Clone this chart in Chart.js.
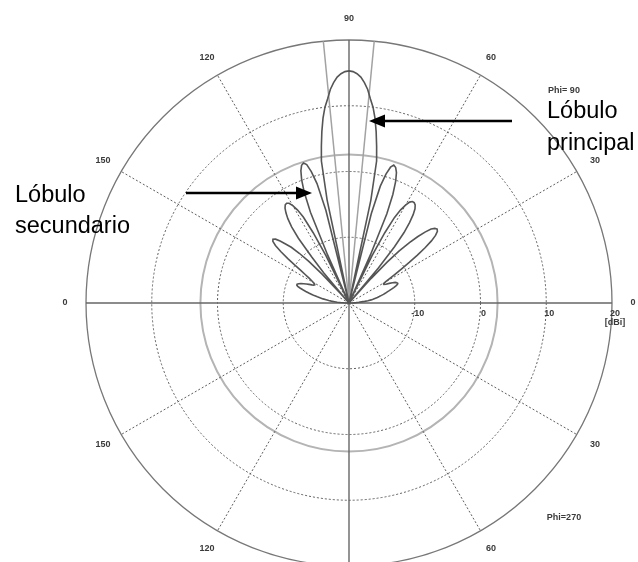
<!DOCTYPE html>
<html>
<head>
<meta charset="utf-8">
<script src="https://cdn.jsdelivr.net/npm/chart.js@4/dist/chart.umd.min.js"></script>
<style>
  html, body { margin: 0; padding: 0; background: #fff; overflow: hidden; width: 638px; height: 562px; }
  canvas { display: block; }
</style>
</head>
<body>
<canvas id="pattern" width="638" height="566"></canvas>
<script>
// Elevation angle of every gain sample, from the left horizon (180) over the zenith (90) to the right horizon (0).
const elevation = Array.from({ length: 181 }, (_, i) => 180 - i);

// Vertical-plane gain in dBi, one value per degree of elevation (same order as `elevation`).
const gainDbi = [
  -20.0, -19.6, -19.2, -18.7, -18.2, -17.8, -17.3, -16.9, -16.5, -16.0,   // 180..171
  -15.6, -15.1, -14.6, -14.2, -13.7, -13.2, -12.7, -12.2, -11.8, -11.6,   // 170..161
  -11.6, -11.8, -12.1, -12.5, -12.9, -13.3, -13.7, -14.0, -14.1, -14.0,   // 160..151
  -13.7, -13.3, -12.8, -12.1, -11.2, -10.0,  -8.5,  -7.0,  -5.8,  -5.1,   // 150..141
   -4.9,  -5.2,  -5.9,  -6.9,  -7.8,  -9.3, -11.2, -14.0, -18.0, -20.0,   // 140..131
  -14.0, -11.0,  -7.5,  -5.5,  -4.2,  -3.3,  -2.6,  -2.2,  -2.1,  -2.3,   // 130..121
   -2.9,  -3.8,  -5.2,  -8.0, -12.0, -20.0, -12.0,  -5.0,  -1.8,   0.1,   // 120..111
    1.4,   2.15,  2.4,   2.0,   0.8,  -1.2,  -5.5, -20.0,  -4.0,   2.0,   // 110..101
    4.2,   6.4,   8.4,  10.0,  11.2,  12.6,  13.6,  14.4,  14.9,  15.2,   // 100..91
   15.3,  15.2,  14.9,  14.4,  13.6,  12.6,  11.2,  10.0,   8.4,   6.4,   // 90..81
    4.2,   2.0,  -4.0, -20.0,  -6.0,  -1.6,   0.4,   1.6,   2.05,  1.8,   // 80..71
    1.1,  -0.2,  -2.2,  -5.3, -12.0, -20.0, -12.0,  -8.0,  -5.3,  -3.8,   // 70..61
   -2.8,  -2.1,  -1.8,  -1.8,  -2.0,  -2.5,  -3.4,  -4.7,  -6.4,  -9.0,   // 60..51
  -13.0, -20.0, -15.0, -11.5,  -9.0,  -7.0,  -5.5,  -4.2,  -3.2,  -2.7,   // 50..41
   -2.5,  -2.7,  -3.3,  -4.3,  -5.7,  -7.3,  -8.9, -10.4, -11.7, -12.8,   // 40..31
  -13.6, -14.0, -14.0, -13.7, -13.2, -12.7, -12.3, -12.1, -12.0, -12.1,   // 30..21
  -12.4, -12.8, -13.2, -13.6, -14.0, -14.3, -14.6, -15.0, -15.3, -15.6,   // 20..11
  -16.0, -16.3, -16.6, -17.1, -17.6, -18.1, -18.5, -18.9, -19.3, -19.7,   // 10..1
  -20.0                                                                   // 0
];

// Radial axis (dBi)
const radialMin = -20;
const radialMax = 20;
const ringLevels = [-10, 0, 2.6, 10, 20];       // circles drawn on the grid
const dbTickValues = [-10, 0, 10, 20];          // labelled along the right half of the horizontal axis
const dbTickText = ['-10', '0', '10', '20'];
const dbUnit = '[dBi]';

// Angular grid: spokes every 30 degrees and the text printed at their ends
const spokeAngles = [0, 30, 60, 90, 120, 150, 180, 210, 240, 270, 300, 330];
const spokeText   = ['0', '30', '60', '90', '120', '150', '0', '150', '120', '90', '60', '30'];

// Half-power beam edges of the main lobe (degrees of elevation)
const beamEdges = [95.6, 84.5];

// Full circle of categories, one per degree; the lower half carries no samples
const lowerHalf = Array.from({ length: 179 }, (_, k) => 359 - k);
const circleLabels = elevation.concat(lowerHalf).map(String);

// Category index of an elevation angle on the radar scale (index 0 = 180 deg on the left)
const indexOf = deg => (((180 - deg) % 360) + 360) % 360;

const GRID = '#5e5e5e';
const OUTER = '#777777';
const AXIS = '#666666';

const overlay = {
  id: 'patternOverlay',
  beforeDatasetsDraw(chart) {
    const s = chart.scales.r;
    const ctx = chart.ctx;
    const rOuter = s.getDistanceFromCenterForValue(s.max);
    ctx.save();
    ctx.strokeStyle = '#a2a2a2';
    ctx.lineWidth = 1.5;
    beamEdges.forEach(a => {
      const p = s.getPointPosition(indexOf(a), rOuter);
      ctx.beginPath();
      ctx.moveTo(s.xCenter, s.yCenter);
      ctx.lineTo(p.x, p.y);
      ctx.stroke();
    });
    ctx.restore();
  },
  afterDraw(chart) {
    const s = chart.scales.r;
    const ctx = chart.ctx;
    const rOuter = s.getDistanceFromCenterForValue(s.max);
    ctx.save();

    // angle labels around the outer circle
    ctx.font = 'bold 9px "Liberation Sans", Arial, sans-serif';
    ctx.fillStyle = '#3a3a3a';
    ctx.textAlign = 'center';
    ctx.textBaseline = 'middle';
    spokeAngles.forEach((a, i) => {
      const p = s.getPointPosition(indexOf(a), rOuter + 21);
      ctx.fillText(spokeText[i], p.x, p.y);
    });

    // dBi labels under the horizontal axis
    dbTickValues.forEach((v, i) => {
      const x = s.xCenter + s.getDistanceFromCenterForValue(v) + 3;
      ctx.fillText(dbTickText[i], x, s.yCenter + 11);
    });
    const xUnit = s.xCenter + s.getDistanceFromCenterForValue(radialMax) + 3;
    ctx.fillText(dbUnit, xUnit, s.yCenter + 20);

    // plane identifiers
    ctx.fillText('Phi= 90', 564, 91);
    ctx.fillText('Phi=270', 564, 518);

    // annotations
    ctx.fillStyle = '#000';
    ctx.textAlign = 'left';
    ctx.textBaseline = 'alphabetic';
    ctx.font = '23.5px "Liberation Sans", Arial, sans-serif';
    ctx.fillText('Lóbulo', 547, 118);
    ctx.fillText('principal', 547, 150);
    ctx.fillText('Lóbulo', 15, 202);
    ctx.fillText('secundario', 15, 233);

    const arrow = (x0, x1, y) => {
      const dir = Math.sign(x1 - x0);
      const base = x1 - dir * 16;
      ctx.strokeStyle = '#000';
      ctx.lineWidth = 2.5;
      ctx.beginPath();
      ctx.moveTo(x0, y);
      ctx.lineTo(base, y);
      ctx.stroke();
      ctx.fillStyle = '#000';
      ctx.beginPath();
      ctx.moveTo(x1, y);
      ctx.lineTo(base, y - 6.5);
      ctx.lineTo(base, y + 6.5);
      ctx.closePath();
      ctx.fill();
    };
    arrow(512, 369, 121);
    arrow(186, 312, 193);

    ctx.restore();
  }
};

new Chart(document.getElementById('pattern'), {
  type: 'radar',
  data: {
    labels: circleLabels,
    datasets: [{
      data: gainDbi,
      borderColor: '#555555',
      borderWidth: 1.6,
      pointRadius: 0,
      fill: false,
      tension: 0
    }]
  },
  options: {
    responsive: false,
    devicePixelRatio: 1,
    animation: false,
    events: [],
    layout: { padding: { left: 86, right: 26, top: 40, bottom: 0 } },
    plugins: { legend: { display: false }, tooltip: { enabled: false } },
    scales: {
      r: {
        min: radialMin,
        max: radialMax,
        startAngle: 270,
        afterBuildTicks: scale => { scale.ticks = ringLevels.map(v => ({ value: v })); },
        ticks: { display: false },
        pointLabels: { display: false },
        grid: {
          circular: true,
          color: c => c.tick && c.tick.value === 2.6 ? '#b4b4b4' : (c.tick && c.tick.value === 20 ? OUTER : GRID),
          lineWidth: c => c.tick && c.tick.value === 2.6 ? 2 : (c.tick && c.tick.value === 20 ? 1.3 : 1)
        },
        border: {
          dash: c => (c.tick && (c.tick.value === 20 || c.tick.value === 2.6)) ? [] : [2, 2]
        },
        angleLines: {
          color: c => c.index % 90 === 0 ? AXIS : GRID,
          lineWidth: c => c.index % 30 === 0 ? (c.index % 90 === 0 ? 1.4 : 1) : 0,
          borderDash: c => c.index % 90 === 0 ? [] : [2, 2]
        }
      }
    }
  },
  plugins: [overlay]
});
</script>
</body>
</html>
